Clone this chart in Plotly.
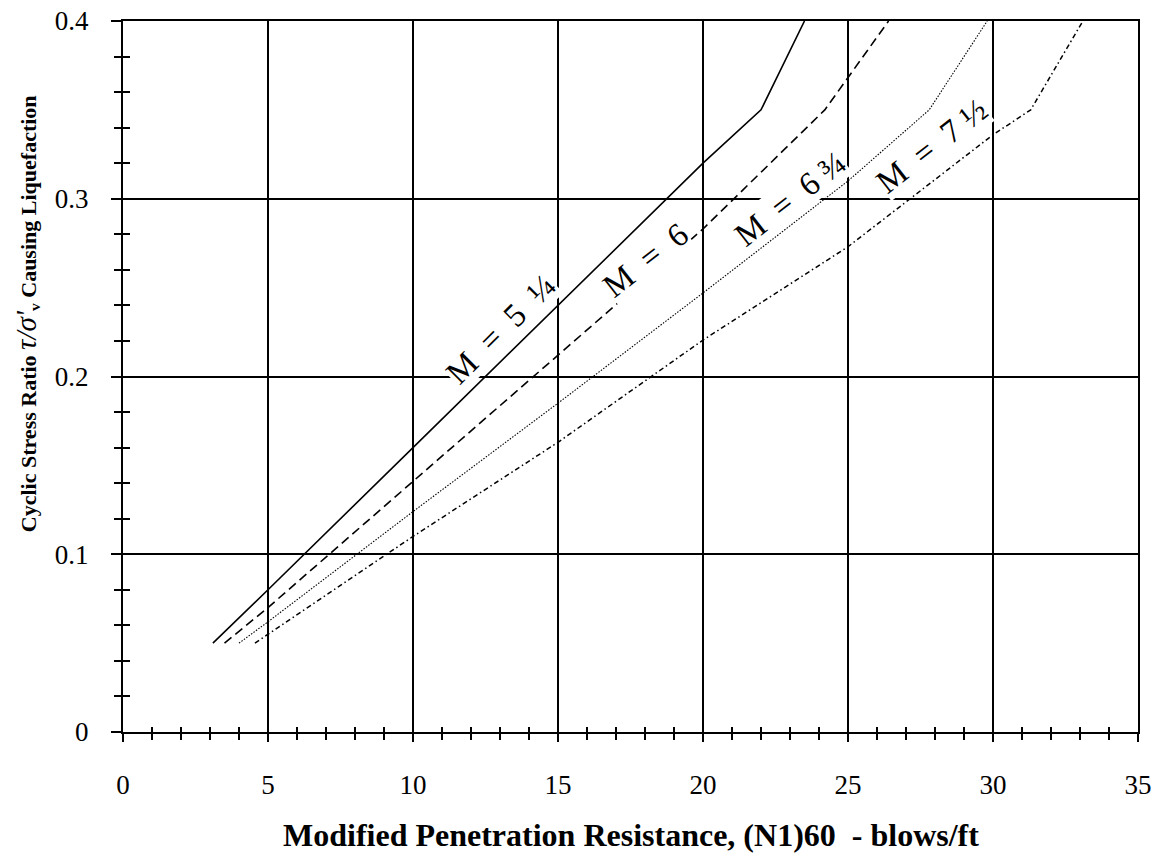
import plotly.graph_objects as go

# ---- data ----
m525_x = [3.1, 5, 10, 15, 20, 22, 23.5]
m525_y = [0.05, 0.08, 0.16, 0.24, 0.32, 0.35, 0.40]

m6_x = [3.5, 5, 10, 15, 20, 24.2, 26.4]
m6_y = [0.05, 0.07, 0.141, 0.212, 0.283, 0.35, 0.40]

m675_x = [4.0, 5, 10, 15, 20, 25, 27.8, 29.8]
m675_y = [0.05, 0.062, 0.124, 0.185, 0.247, 0.31, 0.35, 0.40]

m75_x = [4.55, 5, 10, 15, 20, 25, 30, 31.3, 33.1]
m75_y = [0.05, 0.055, 0.11, 0.163, 0.2205, 0.273, 0.336, 0.35, 0.40]

labels = ["M\u00a0\u00a0=\u00a0\u00a05\u00a0\u00a0¼", "M\u00a0\u00a0=\u00a0\u00a06",
          "M\u00a0\u00a0=\u00a0\u00a06\u00a0¾", "M\u00a0\u00a0=\u00a0\u00a07\u00a0½"]
label_x = [13.03, 18.03, 23.0, 27.9]
label_y = [0.227, 0.2654, 0.300, 0.3294]
label_angle = [-45, -38, -38, -38]

x_range = [0, 35]
y_range = [0, 0.4]
x_ticks = [0, 5, 10, 15, 20, 25, 30, 35]
y_ticks = [0, 0.1, 0.2, 0.3, 0.4]
y_ticktext = ["0", "0.1", "0.2", "0.3", "0.4"]

FONT = "Liberation Serif, Times New Roman, serif"

fig = go.Figure()
fig.add_trace(go.Scatter(x=m525_x, y=m525_y, mode="lines", name="M = 5 1/4",
                         line=dict(color="black", width=1.6)))
fig.add_trace(go.Scatter(x=m6_x, y=m6_y, mode="lines", name="M = 6",
                         line=dict(color="black", width=1.6, dash="9px,5px")))
fig.add_trace(go.Scatter(x=m675_x, y=m675_y, mode="lines", name="M = 6 3/4",
                         line=dict(color="black", width=1.1, dash="1.5px,1.5px")))
fig.add_trace(go.Scatter(x=m75_x, y=m75_y, mode="lines", name="M = 7 1/2",
                         line=dict(color="black", width=1.5, dash="5px,3px,1.5px,3px")))
# empty trace so the overlay axes (inner tick halves) are drawn
fig.add_trace(go.Scatter(x=[], y=[], xaxis="x2", yaxis="y2", showlegend=False))

for t, x, y, a in zip(labels, label_x, label_y, label_angle):
    fig.add_annotation(x=x, y=y, xref="x", yref="y", text=t, showarrow=False,
                       textangle=a, bgcolor="white", borderpad=0,
                       font=dict(family=FONT, size=33, color="black"))

fig.add_annotation(
    xref="paper", yref="paper", x=-0.0946, y=0.589, showarrow=False, textangle=-90,
    xanchor="center", yanchor="middle",
    text=("<b>Cyclic Stress Ratio </b><i><span style='font-size:29px'>τ/σ'</span></i>"
          "<sub><b>v</b></sub><b> Causing Liquefaction</b>"),
    font=dict(family=FONT, size=22, color="black"))
fig.add_annotation(
    xref="paper", yref="paper", x=0.5, y=-0.1449, showarrow=False,
    xanchor="center", yanchor="middle",
    text="<b>Modified Penetration Resistance, (N1)60 \u00a0- blows/ft</b>",
    font=dict(family=FONT, size=32, color="black"))

axis_common = dict(showline=True, linecolor="black", linewidth=2, mirror=True,
                   showgrid=True, gridcolor="black", gridwidth=2, zeroline=False,
                   tickcolor="black", tickwidth=2,
                   tickfont=dict(family=FONT, size=27, color="black"))

fig.update_layout(
    width=1158, height=859,
    margin=dict(l=123, r=20, t=21, b=127, autoexpand=False),
    paper_bgcolor="white", plot_bgcolor="white",
    showlegend=False,
    xaxis=dict(range=x_range, tickmode="array", tickvals=x_ticks, ticks="outside",
               ticklen=8, ticklabelstandoff=20, automargin=False,
               minor=dict(ticks="outside", dtick=1, tick0=0, ticklen=6,
                          tickwidth=1.5, tickcolor="black", showgrid=False),
               **axis_common),
    yaxis=dict(range=y_range, tickmode="array", tickvals=y_ticks, ticktext=y_ticktext,
               ticks="outside", ticklen=10, ticklabelstandoff=17, automargin=False,
               minor=dict(ticks="outside", dtick=0.02, tick0=0, ticklen=7,
                          tickwidth=1.5, tickcolor="black", showgrid=False),
               **axis_common),
    xaxis2=dict(range=x_range, overlaying="x", anchor="y2", side="bottom",
                showline=False, showgrid=False, zeroline=False, showticklabels=False,
                tickmode="array", tickvals=x_ticks, ticks="inside", ticklen=5,
                tickwidth=1.5, tickcolor="black",
                minor=dict(ticks="inside", dtick=1, tick0=0, ticklen=5,
                           tickwidth=1.5, tickcolor="black", showgrid=False)),
    yaxis2=dict(range=y_range, overlaying="y", anchor="x2", side="left",
                showline=False, showgrid=False, zeroline=False, showticklabels=False,
                tickmode="array", tickvals=y_ticks, ticks="inside", ticklen=7,
                tickwidth=1.5, tickcolor="black",
                minor=dict(ticks="inside", dtick=0.02, tick0=0, ticklen=7,
                           tickwidth=1.5, tickcolor="black", showgrid=False)),
)

fig.write_html("out.html")
